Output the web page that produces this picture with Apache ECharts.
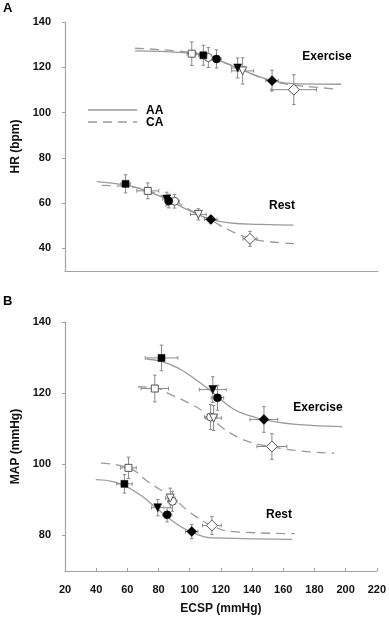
<!DOCTYPE html>
<html>
<head>
<meta charset="utf-8">
<script src="https://cdn.jsdelivr.net/npm/echarts@6/dist/echarts.min.js"></script>
<style>
  html, body { margin: 0; padding: 0; background: #fff; }
  #chart { width: 389px; height: 618px; }
</style>
</head>
<body>
<div id="chart"></div>
<script>
// marker order in every point array: square, circle, triangle (down), diamond
const shapes = ['rect', 'circle', 'triangle', 'diamond'];
const shapeSize = [7, 8, 8, 10];

// panel A, HR: [ECSP, HR, ECSP err, HR err]
const hrRestAA = [[58.7, 68.5, 3, 4], [86.3, 60.9, 2.5, 3], [85.0, 61.8, 2.5, 3], [113.2, 52.8, 4, 1.5]];
const hrRestCA = [[72.9, 65.4, 7, 3.5], [90.0, 60.8, 3, 3], [105.2, 55.0, 5, 2.5], [138.2, 44.2, 4.5, 3.3]];
const hrExAA = [[108.4, 125.3, 3, 4.4], [116.8, 123.7, 3, 4], [130.3, 119.7, 4, 4.4], [152.3, 114.1, 4, 4.6]];
const hrExCA = [[101.0, 126.0, 3, 5.2], [111.6, 124.3, 3, 4.4], [133.5, 118.4, 7, 5.8], [166.2, 110.1, 14.5, 6.6]];

// panel B, MAP
const mapRestAA = [[58.1, 94.5, 5, 2.6], [85.5, 85.8, 3, 2], [79.5, 87.8, 4, 2.3], [101.3, 81.1, 4, 2]];
const mapRestCA = [[60.7, 99.0, 5, 3], [88.9, 89.6, 3, 2.8], [87.5, 90.5, 3, 2.8], [114.2, 82.8, 6, 2.5]];
const mapExAA = [[81.9, 129.9, 10.5, 3.6], [117.8, 118.7, 4, 3.5], [114.8, 121.0, 8.6, 3.6], [147.6, 112.6, 8.9, 3.6]];
const mapExCA = [[77.6, 121.3, 8.8, 3.75], [113.4, 113.3, 4, 3.5], [115.3, 113.0, 5, 3.5], [152.7, 105.0, 9.6, 3.6]];

// fitted curves
const hrExAAFit = [[64.7, 127.2], [97.8, 126.4], [110.5, 125.0], [125.4, 121.0], [140.3, 116.9], [153.1, 114.0], [168, 112.7], [196.5, 112.5]];
const hrExCAFit = [[64.7, 128.4], [97.8, 126.8], [110.5, 125.1], [125.4, 121.2], [140.3, 116.7], [153.1, 113.7], [168, 112.0], [183, 111.0], [193, 110.4]];
const hrRestAAFit = [[40.3, 69.5], [60, 67.8], [72, 65.4], [85, 61.7], [100, 56.5], [113, 52.9], [125, 51.3], [145, 50.6], [166, 50.3]];
const hrRestCAFit = [[43.5, 67.8], [60, 67.3], [73, 65.4], [90, 60.8], [105, 55.0], [113, 52.5], [125, 48.0], [138, 44.5], [150, 43.0], [167.8, 42.0]];
const mapExAAFit = [[72.2, 129.6], [82.8, 128.8], [93.5, 126.8], [104.2, 123.7], [115, 120.1], [127.5, 115.7], [138.2, 113.7], [148.9, 112.4], [168, 111.2], [197.8, 110.6]];
const mapExCAFit = [[66.8, 121.8], [78.6, 121.4], [87.1, 119.7], [99.9, 117.1], [110.5, 114.3], [119, 111.0], [127.5, 108.4], [138.2, 106.3], [153.1, 104.9], [172.3, 103.7], [192.5, 103.1]];
const mapRestAAFit = [[39.7, 95.7], [52.1, 95.0], [67.1, 91.7], [77.8, 88.0], [88.5, 84.2], [101.3, 80.9], [116.4, 79.3], [165.6, 78.9]];
const mapRestCAFit = [[43.1, 100.3], [60.7, 99.0], [73.5, 95.0], [88.5, 90.7], [101.3, 86.1], [114.2, 82.8], [127, 81.1], [167.3, 80.5]];

const xTicks = [20, 40, 60, 80, 100, 120, 140, 160, 180, 200, 220];
const hrTicks = [40, 60, 80, 100, 120, 140];
const mapTicks = [80, 100, 120, 140];
const groups = ['AA', 'CA'];

const axisGray = '#a3a3a3';
const lineGray = '#9a9a9a';
const barGray = '#8a8a8a';
const font = 'Liberation Sans, Arial, sans-serif';

function fitLine(name, data, idx, dashed) {
  return {
    name: name, type: 'line', xAxisIndex: idx, yAxisIndex: idx,
    data: data, smooth: 0.5, symbol: 'none', z: 2,
    lineStyle: { color: lineGray, width: 1.3, type: dashed ? [9, 6] : 'solid' }
  };
}

function errBars(data, idx) {
  return {
    type: 'custom', xAxisIndex: idx, yAxisIndex: idx, z: 3,
    data: data, encode: { x: 0, y: 1 },
    renderItem: function (params, api) {
      const x = api.value(0), y = api.value(1), ex = api.value(2), ey = api.value(3);
      const l = api.coord([x - ex, y]), r = api.coord([x + ex, y]);
      const t = api.coord([x, y + ey]), b = api.coord([x, y - ey]);
      const cap = 1.8;
      const st = { stroke: barGray, lineWidth: 1 };
      const ln = (x1, y1, x2, y2) => ({ type: 'line', shape: { x1, y1, x2, y2 }, style: st });
      return {
        type: 'group',
        children: [
          ln(l[0], l[1], r[0], r[1]),
          ln(l[0], l[1] - cap, l[0], l[1] + cap),
          ln(r[0], r[1] - cap, r[0], r[1] + cap),
          ln(t[0], t[1], b[0], b[1]),
          ln(t[0] - cap, t[1], t[0] + cap, t[1]),
          ln(b[0] - cap, b[1], b[0] + cap, b[1])
        ]
      };
    }
  };
}

function markers(data, idx, filled) {
  return {
    type: 'scatter', xAxisIndex: idx, yAxisIndex: idx, z: 4,
    data: data.map((d, i) => ({
      value: [d[0], d[1]],
      symbol: shapes[i],
      symbolSize: shapes[i] === 'diamond' && !filled ? 11 : shapeSize[i],
      symbolRotate: shapes[i] === 'triangle' ? 180 : 0
    })),
    itemStyle: filled
      ? { color: '#000', borderColor: '#000', borderWidth: 0.5, opacity: 1 }
      : { color: '#fff', borderColor: '#555', borderWidth: 1, opacity: 1 }
  };
}

const tickLabel = { fontFamily: font, fontWeight: 'bold', fontSize: 11, color: '#111' };
const nameStyle = { fontFamily: font, fontWeight: 'bold', fontSize: 12, color: '#111' };
const txt = (t, x, y, size) => ({
  type: 'text', x: x, y: y,
  style: { text: t, font: 'bold ' + size + 'px ' + font, fill: '#000', align: 'center', verticalAlign: 'middle' }
});

const chart = echarts.init(document.getElementById('chart'));
chart.setOption({
  animation: false,
  grid: [
    { left: 65, right: 11, top: 22, height: 249 },
    { left: 65, right: 11, top: 322, height: 249 }
  ],
  xAxis: [
    {
      gridIndex: 0, type: 'value', min: 20, max: 220,
      axisLine: { lineStyle: { color: axisGray, width: 1.2 } },
      axisTick: { show: false }, axisLabel: { show: false }, splitLine: { show: false }
    },
    {
      gridIndex: 1, type: 'value', min: 20, max: 220, interval: 20,
      name: 'ECSP (mmHg)', nameLocation: 'middle', nameGap: 32, nameTextStyle: nameStyle,
      axisLine: { lineStyle: { color: axisGray, width: 1.2 } },
      axisTick: { inside: true, length: 3, lineStyle: { color: axisGray } },
      axisLabel: Object.assign({ margin: 13, customValues: xTicks }, tickLabel),
      splitLine: { show: false }
    }
  ],
  yAxis: [
    {
      gridIndex: 0, type: 'value', min: 30, max: 140,
      name: 'HR (bpm)', nameLocation: 'middle', nameGap: 43, nameTextStyle: nameStyle,
      axisLine: { show: true, lineStyle: { color: axisGray, width: 1.2 } },
      axisTick: { show: true, length: 3, customValues: hrTicks, lineStyle: { color: axisGray } },
      axisLabel: Object.assign({ margin: 14, customValues: hrTicks }, tickLabel),
      splitLine: { show: false }
    },
    {
      gridIndex: 1, type: 'value', min: 70, max: 140,
      name: 'MAP (mmHg)', nameLocation: 'middle', nameGap: 43, nameTextStyle: nameStyle,
      axisLine: { show: true, lineStyle: { color: axisGray, width: 1.2 } },
      axisTick: { show: true, length: 3, customValues: mapTicks, lineStyle: { color: axisGray } },
      axisLabel: Object.assign({ margin: 14, customValues: mapTicks }, tickLabel),
      splitLine: { show: false }
    }
  ],
  graphic: [
    { type: 'text', left: 3, top: 2, style: { text: 'A', font: 'bold 13px ' + font, fill: '#000' } },
    { type: 'text', left: 3, top: 295, style: { text: 'B', font: 'bold 13px ' + font, fill: '#000' } },
    txt('Exercise', 327, 57, 12),
    txt('Rest', 282, 206, 12),
    txt('Exercise', 318, 408, 12),
    txt('Rest', 279, 515, 12),
    // legend
    { type: 'line', shape: { x1: 88, y1: 110, x2: 137, y2: 110 }, style: { stroke: lineGray, lineWidth: 1.3 } },
    { type: 'line', shape: { x1: 88, y1: 122, x2: 137, y2: 122 }, style: { stroke: lineGray, lineWidth: 1.3, lineDash: [9, 6] } },
    { type: 'text', x: 146, y: 111, style: { text: groups[0], font: 'bold 12px ' + font, fill: '#000', verticalAlign: 'middle' } },
    { type: 'text', x: 146, y: 123, style: { text: groups[1], font: 'bold 12px ' + font, fill: '#000', verticalAlign: 'middle' } }
  ],
  series: [
    fitLine('AA', hrExAAFit, 0, false),
    fitLine('CA', hrExCAFit, 0, true),
    fitLine('AA', hrRestAAFit, 0, false),
    fitLine('CA', hrRestCAFit, 0, true),
    fitLine('AA', mapExAAFit, 1, false),
    fitLine('CA', mapExCAFit, 1, true),
    fitLine('AA', mapRestAAFit, 1, false),
    fitLine('CA', mapRestCAFit, 1, true),

    errBars(hrExAA.concat(hrExCA, hrRestAA, hrRestCA), 0),
    errBars(mapExAA.concat(mapExCA, mapRestAA, mapRestCA), 1),

    markers(hrExCA, 0, false),
    markers(hrRestCA, 0, false),
    markers(hrExAA, 0, true),
    markers(hrRestAA, 0, true),
    markers(mapExCA, 1, false),
    markers(mapRestCA, 1, false),
    markers(mapExAA, 1, true),
    markers(mapRestAA, 1, true)
  ]
});
</script>
</body>
</html>
